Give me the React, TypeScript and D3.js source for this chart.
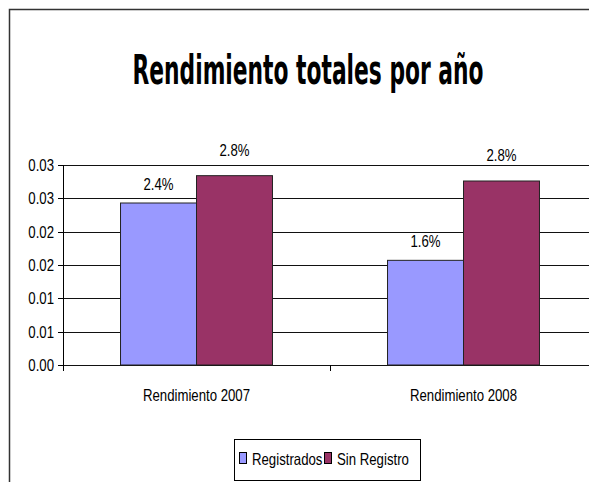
import React from 'react';
import * as d3 from 'd3';

// chart data
const categories = ['Rendimiento 2007', 'Rendimiento 2008'];
const seriesNames = ['Registrados', 'Sin Registro'];
const registrados = [0.0243, 0.0157];
const sinRegistro = [0.0284, 0.0276];
const yTicks = [0, 0.005, 0.01, 0.015, 0.02, 0.025, 0.03];

const colors = ['#9999FF', '#993366'];
const labelFont = '"Liberation Sans", Arial, sans-serif';
const squeeze = 0.8;

const App = () => {
  const width = 589;
  const height = 482;
  const left = 63;
  const top = 165;
  const bottom = 365;
  const right = 597;

  const y = d3.scaleLinear().domain([0, 0.03]).range([bottom, top]);
  const x0 = d3.scaleBand().domain(categories).range([left, right]);
  const x1 = d3
    .scaleBand()
    .domain(seriesNames)
    .range([0, x0.bandwidth()])
    .paddingInner(0)
    .paddingOuter(0.757);

  // excel rounds half up: 0.005 -> 0.01, 0.015 -> 0.02
  const tickFmt = (t) => (Math.round(t * 100 + 1e-9) / 100).toFixed(2);
  const valFmt = d3.format('.1%');

  const rows = categories.map((c, i) => ({
    category: c,
    values: [registrados[i], sinRegistro[i]],
  }));

  const labelOffset = [13, 20];

  const txt = (x, yy, s, anchor = 'middle', size = 16.5) => (
    <text
      transform={`translate(${x},${yy}) scale(${squeeze},1)`}
      textAnchor={anchor}
      fontFamily={labelFont}
      fontSize={size}
      fill="#000"
    >
      {s}
    </text>
  );

  const legendX = [239, 324];

  return (
    <svg
      width={width}
      height={height}
      style={{ position: 'absolute', left: 0, top: 0, background: '#fff' }}
    >
      <rect x={9.5} y={9.5} width={620} height={500} fill="#fff" stroke="#333" strokeWidth={1.5} />

      <text
        transform="translate(308,84) scale(0.545,1)"
        textAnchor="middle"
        fontFamily='"DejaVu Sans", sans-serif'
        fontWeight="bold"
        fontSize={40}
        fill="#000"
      >
        Rendimiento totales por año
      </text>

      {/* gridlines */}
      {yTicks.map((t) => (
        <line
          key={t}
          x1={left}
          x2={right}
          y1={Math.round(y(t)) + 0.5}
          y2={Math.round(y(t)) + 0.5}
          stroke="#111"
          strokeWidth={1}
        />
      ))}

      {/* bars */}
      {rows.map((r) =>
        r.values.map((v, j) => {
          const bx = x0(r.category) + x1(seriesNames[j]);
          return (
            <rect
              key={r.category + j}
              x={bx}
              y={y(v)}
              width={x1.bandwidth()}
              height={y(0) - y(v)}
              fill={colors[j]}
              stroke="#222"
              strokeWidth={1}
            />
          );
        })
      )}

      {/* value labels */}
      {rows.map((r) =>
        r.values.map((v, j) => (
          <g key={'l' + r.category + j}>
            {txt(
              x0(r.category) + x1(seriesNames[j]) + x1.bandwidth() / 2,
              y(v) - labelOffset[j],
              valFmt(v)
            )}
          </g>
        ))
      )}

      {/* y axis */}
      <line x1={left + 0.5} x2={left + 0.5} y1={top} y2={bottom + 6} stroke="#000" />
      {yTicks.map((t) => (
        <g key={'t' + t}>
          <line
            x1={left - 5}
            x2={left}
            y1={Math.round(y(t)) + 0.5}
            y2={Math.round(y(t)) + 0.5}
            stroke="#000"
          />
          {txt(left - 9, y(t) + 6, tickFmt(t), 'end')}
        </g>
      ))}

      {/* x axis ticks + labels */}
      {categories.map((c) => (
        <g key={c}>
          <line
            x1={x0(c) + x0.bandwidth() + 0.5}
            x2={x0(c) + x0.bandwidth() + 0.5}
            y1={bottom}
            y2={bottom + 6}
            stroke="#000"
          />
          {txt(x0(c) + x0.bandwidth() / 2, 401, c)}
        </g>
      ))}

      {/* legend */}
      <rect x={234.5} y={439.5} width={186} height={41} fill="#fff" stroke="#000" />
      {seriesNames.map((s, i) => (
        <g key={s}>
          <rect
            x={legendX[i] + 0.5}
            y={452.5}
            width={7}
            height={11}
            fill={colors[i]}
            stroke="#000"
          />
          {txt(legendX[i] + 13, 465, s, 'start')}
        </g>
      ))}
    </svg>
  );
};

export default App;
